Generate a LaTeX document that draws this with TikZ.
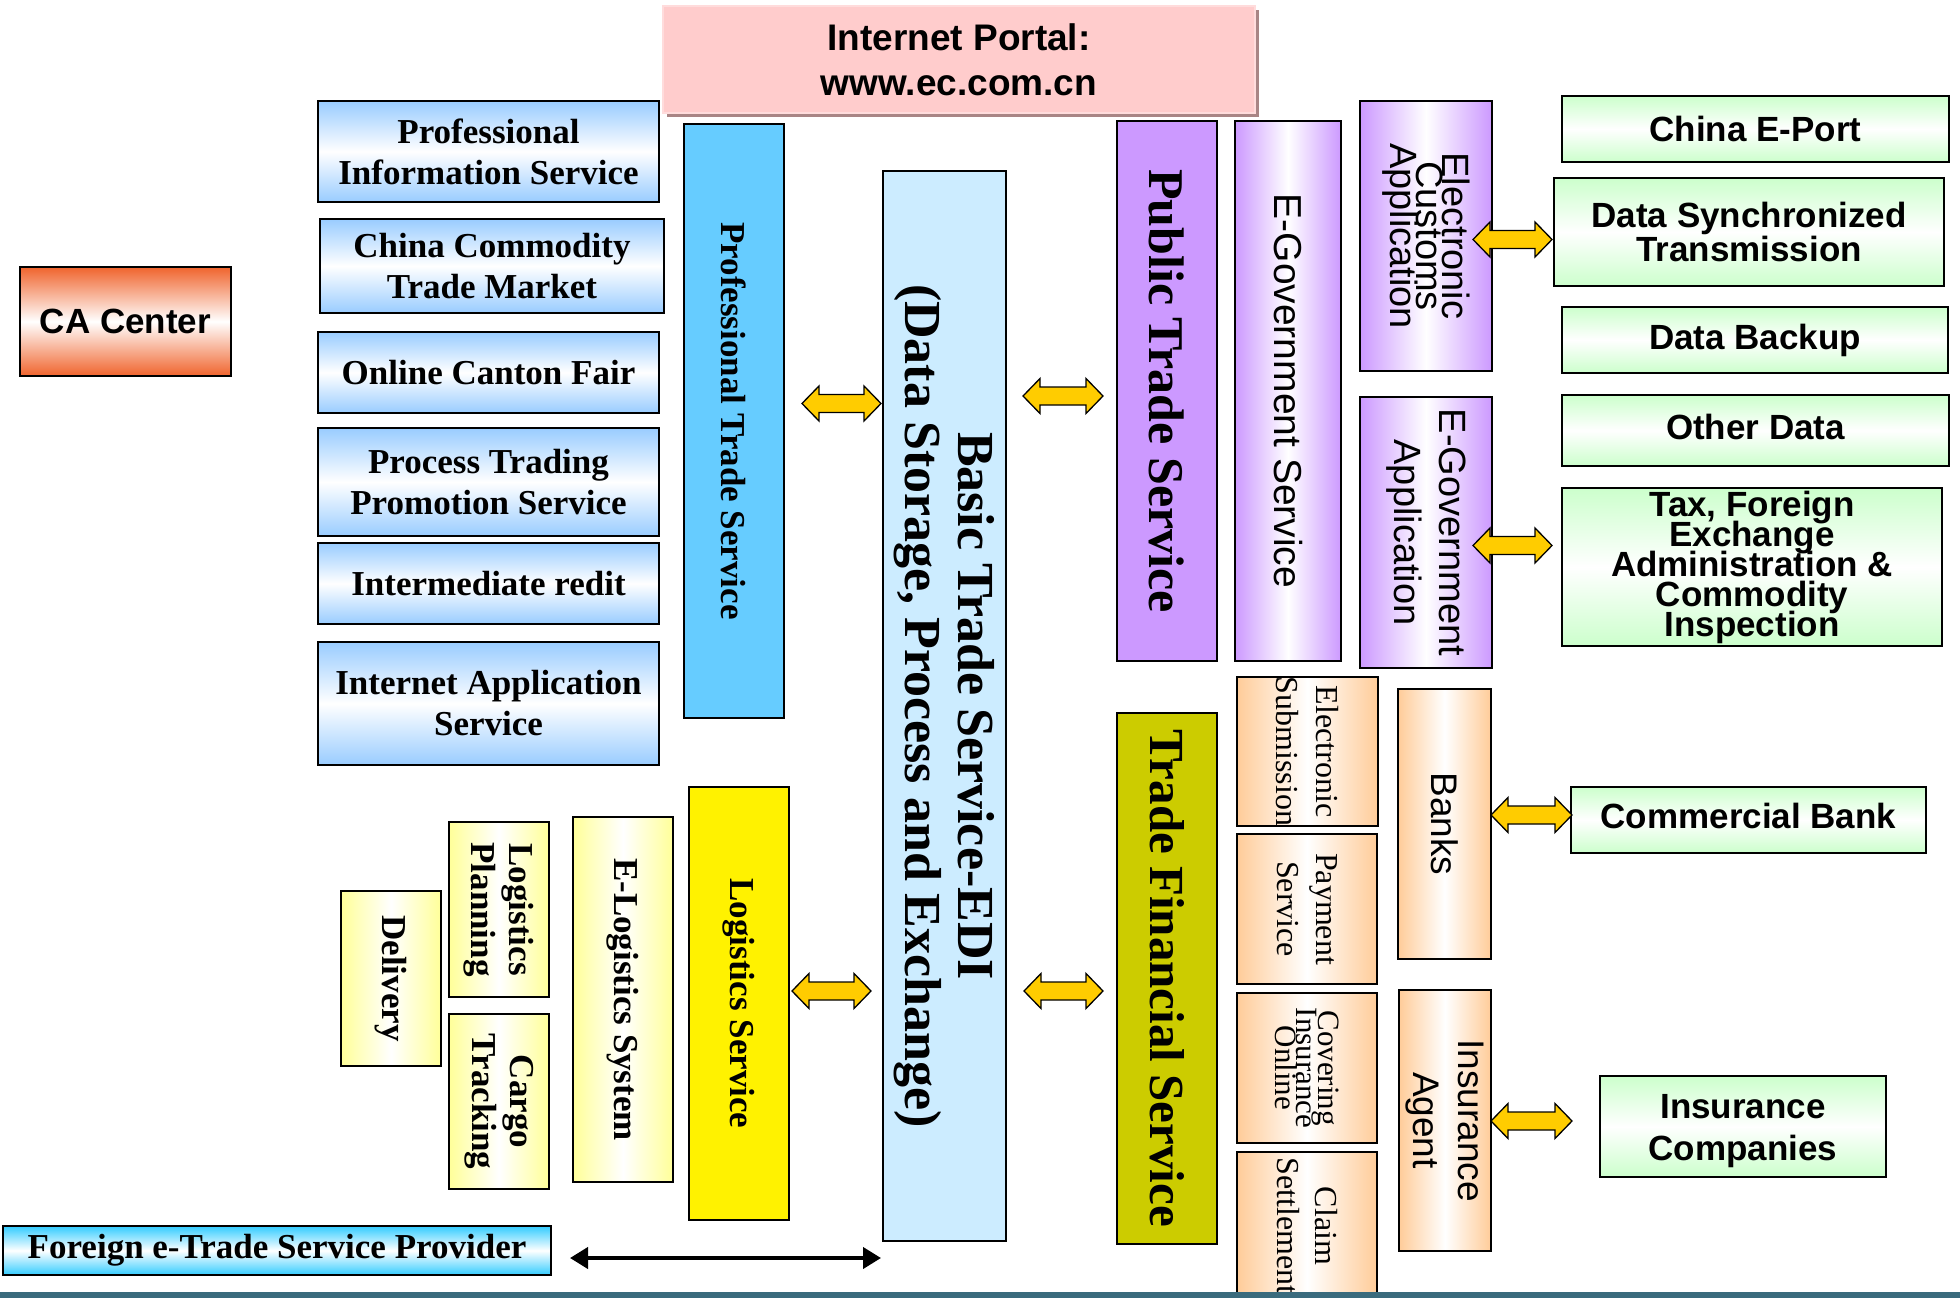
\documentclass[tikz,border=0pt]{standalone}
\usepackage{fontspec}
\setmainfont{Liberation Serif}
\newfontfamily\arialf{Liberation Sans}
\usetikzlibrary{calc,arrows.meta,shadows}
\definecolor{blueedge}{HTML}{99CCFF}
\definecolor{ptsblue}{HTML}{66CCFF}
\definecolor{edifill}{HTML}{CCECFF}
\definecolor{purp}{HTML}{CC99FF}
\definecolor{tfolive}{HTML}{CCCC00}
\definecolor{peach}{HTML}{FFCC99}
\definecolor{mint}{HTML}{CCFFCC}
\definecolor{lyellow}{HTML}{FFFF99}
\definecolor{caorange}{HTML}{F0642D}
\definecolor{cyanedge}{HTML}{33CCFF}
\definecolor{portalpink}{HTML}{FFCCCC}
\definecolor{portaledge}{HTML}{FFDCDC}
\definecolor{portalshadow}{HTML}{A07878}
\definecolor{gold}{HTML}{FFCC00}
\definecolor{bandc}{HTML}{3A6B7D}
\newcommand\fTB[2]{\fontsize{#1}{#2}\selectfont\bfseries\lineskiplimit=-200pt\lineskip=0pt}
\newcommand\fTR[2]{\fontsize{#1}{#2}\selectfont\lineskiplimit=-200pt\lineskip=0pt}
\newcommand\fAB[2]{\arialf\fontsize{#1}{#2}\selectfont\bfseries\lineskiplimit=-200pt\lineskip=0pt}
\newcommand\fAR[2]{\arialf\fontsize{#1}{#2}\selectfont\lineskiplimit=-200pt\lineskip=0pt}
% horizontal box from corners
\newcommand\mkh[7]{\node[box,#6,minimum width={#4-#2},minimum height={#5-#3}] (#1) at ({(#2+#4)/2},{(#3+#5)/2}) {#7};}
% box with text reading top to bottom
\newcommand\mkv[7]{\node[box,rotate=-90,#6,minimum width={#5-#3},minimum height={#4-#2}] (#1) at ({(#2+#4)/2},{(#3+#5)/2}) {#7};}
\tikzset{
  box/.style={draw=black, line width=1.8pt, inner sep=0pt, outer sep=0pt, align=center},
  hg/.style={top color=#1, bottom color=#1, middle color=white},
  vg/.style={left color=#1, right color=#1, middle color=white},
  blockarr/.style={draw=black, line width=1.3pt, fill=gold, line join=miter,
    to path={let \p1=(\tikztostart), \p2=(\tikztotarget) in
      (\x1,\y1) -- (\x1+17pt,\y1+17.5pt) -- (\x1+17pt,\y1+9pt) -- (\x2-17pt,\y1+9pt)
      -- (\x2-17pt,\y1+17.5pt) -- (\x2,\y1) -- (\x2-17pt,\y1-17.5pt) -- (\x2-17pt,\y1-9pt)
      -- (\x1+17pt,\y1-9pt) -- (\x1+17pt,\y1-17.5pt) -- cycle}},
  blkarr/.style={line width=4pt, {Triangle[length=18pt,width=21pt]}-{Triangle[length=18pt,width=21pt]}}
}
\begin{document}
\begin{tikzpicture}[x=1pt,y=-1pt]
\path[use as bounding box, fill=white] (0,0) rectangle (1960,1298);

% portal
\mkh{portal}{663}{6}{1255}{113}{draw=portaledge, fill=portalpink, drop shadow={shadow xshift=4pt, shadow yshift=-4pt, fill=portalshadow, opacity=0.9}, font=\fAB{37}{45}}{Internet Portal:\\www.ec.com.cn}

% CA
\mkh{ca}{20}{267}{231}{376}{hg=caorange, font=\fAB{35}{40}}{CA Center}

% left column
\mkh{pis}{318}{101}{659}{202}{hg=blueedge, font=\fTB{35}{41}}{Professional\\Information Service}
\mkh{cct}{320}{219}{664}{313}{hg=blueedge, font=\fTB{35}{41}}{China Commodity\\Trade Market}
\mkh{ocf}{318}{332}{659}{413}{hg=blueedge, font=\fTB{35}{41}}{Online Canton Fair}
\mkh{ptp}{318}{428}{659}{536}{hg=blueedge, font=\fTB{35}{41}}{Process Trading\\Promotion Service}
\mkh{imc}{318}{543}{659}{624}{hg=blueedge, font=\fTB{35}{41}}{Intermediate redit}
\mkh{ias}{318}{642}{659}{765}{hg=blueedge, font=\fTB{35}{41}}{Internet Application\\Service}

% vertical services
\mkv{pts}{684}{124}{784}{718}{fill=ptsblue, font=\fTB{35}{40}}{Professional Trade Service}
\mkv{edi}{883}{171}{1006}{1241}{fill=edifill, font=\fTB{52}{53}}{Basic Trade Service-EDI\\(Data Storage, Process and Exchange)}
\mkv{pub}{1117}{121}{1217}{661}{fill=purp, font=\fTB{50}{52}}{Public Trade Service}
\mkv{egs}{1235}{121}{1341}{661}{vg=purp, font=\fAR{39}{44}}{E-Government Service}
\mkv{eca}{1360}{101}{1492}{371}{vg=purp, font=\fAR{38}{26}}{Electronic\\Customs\\Application}
\mkv{ega}{1360}{397}{1492}{668}{vg=purp, font=\fAR{38}{45}}{E-Government\\Application}
\mkv{tfs}{1117}{713}{1217}{1244}{fill=tfolive, font=\fTB{49}{52}}{Trade Financial Service}
\mkv{esub}{1237}{677}{1378}{826}{vg=peach, font=\fTR{32}{40}}{Electronic\\Submission}
\mkv{pay}{1237}{834}{1377}{984}{vg=peach, font=\fTR{32}{39}}{Payment\\Service}
\mkv{cio}{1237}{993}{1377}{1143}{vg=peach, font=\fTR{31}{21.5}}{Covering\\Insurance\\Online}
\mkv{cls}{1237}{1152}{1377}{1300}{vg=peach, font=\fTR{32}{38}}{Claim\\Settlement}
\mkv{bnk}{1398}{689}{1491}{959}{vg=peach, font=\fAR{37}{42}}{Banks}
\mkv{ina}{1399}{990}{1491}{1251}{vg=peach, font=\fAR{37}{45}}{Insurance\\Agent}

% green boxes
\mkh{cep}{1562}{96}{1949}{162}{hg=mint, font=\fAB{35}{40}}{China E-Port}
\mkh{dst}{1554}{178}{1944}{286}{hg=mint, font=\fAB{35}{34}}{Data Synchronized\\Transmission}
\mkh{dbk}{1562}{307}{1948}{373}{hg=mint, font=\fAB{35}{40}}{Data Backup}
\mkh{odt}{1562}{395}{1949}{466}{hg=mint, font=\fAB{35}{40}, text depth=8pt}{Other Data}
\mkh{tax}{1562}{488}{1942}{646}{hg=mint, font=\fAB{35}{30}}{Tax, Foreign\\Exchange\\Administration \&\\Commodity\\Inspection}
\mkh{cbk}{1571}{787}{1926}{853}{hg=mint, font=\fAB{35}{40}, text depth=8pt}{Commercial Bank}
\mkh{inc}{1600}{1076}{1886}{1177}{hg=mint, font=\fAB{35}{42}}{\rule{0pt}{34pt}Insurance\\Companies}

% logistics
\mkv{ls}{689}{787}{789}{1220}{fill=yellow, font=\fTB{35}{40}}{Logistics Service}
\mkv{els}{573}{817}{673}{1182}{vg=lyellow, font=\fTB{35}{40}}{E-Logistics System}
\mkv{lp}{449}{822}{549}{997}{vg=lyellow, font=\fTB{35}{38}}{Logistics\\Planning}
\mkv{ct}{449}{1014}{549}{1189}{vg=lyellow, font=\fTB{35}{38}}{Cargo\\Tracking}
\mkv{dl}{341}{891}{441}{1066}{vg=lyellow, font=\fTB{35}{40}}{Delivery}

% foreign provider
\mkh{fsp}{3}{1226}{551}{1275}{hg=cyanedge, font=\fTB{35}{40}}{Foreign e-Trade Service Provider}

% block arrows
\path[blockarr] ($(pts.north |- 0,403.5)+(18,0)$) to ($(edi.south |- 0,403.5)+(-2,0)$);
\path[blockarr] ($(edi.north |- 0,396)+(17,0)$) to ($(pub.south |- 0,396)+(-14,0)$);
\path[blockarr] ($(ls.north |- 0,991)+(3,0)$) to ($(edi.south |- 0,991)+(-12,0)$);
\path[blockarr] ($(edi.north |- 0,991)+(18,0)$) to ($(tfs.south |- 0,991)+(-14,0)$);
\path[blockarr] ($(eca.north |- 0,239.5)+(-19,0)$) to ($(dst.west |- 0,239.5)+(-2,0)$);
\path[blockarr] ($(ega.north |- 0,545.5)+(-19,0)$) to ($(tax.west |- 0,545.5)+(-10,0)$);
\path[blockarr] ($(bnk.north |- 0,815)+(0,0)$) to ($(cbk.west |- 0,815)+(1,0)$);
\path[blockarr] ($(ina.north |- 0,1121)+(0,0)$) to ($(inc.west |- 0,1121)+(-28,0)$);

% black arrow
\draw[blkarr] ($(fsp.east |- 0,1258)+(19,0)$) -- ($(edi.south |- 0,1258)+(-2,0)$);

% bottom band
\fill[bandc] (0,1292) rectangle (1960,1298);
\end{tikzpicture}
\end{document}
